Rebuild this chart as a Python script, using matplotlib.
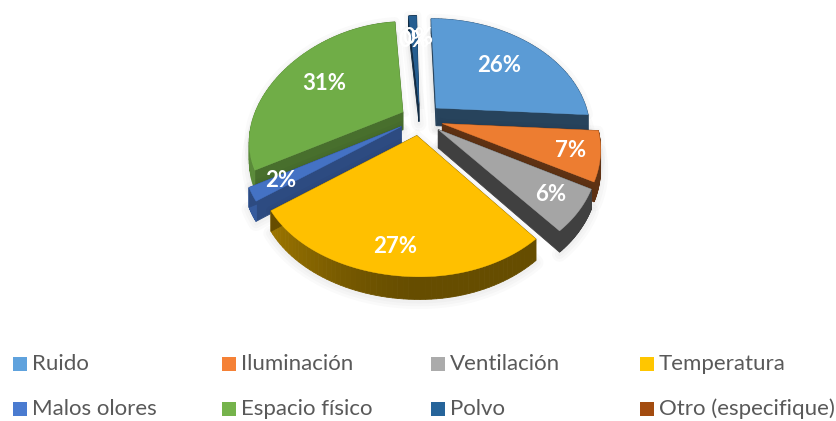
import numpy as np
import matplotlib
matplotlib.use("Agg")
import matplotlib.pyplot as plt

categories = ["Ruido", "Iluminación", "Ventilación", "Temperatura",
              "Malos olores", "Espacio físico", "Polvo", "Otro (especifique)"]
values = [26, 7, 6, 27, 2, 31, 1, 0]
labels = ["26%", "7%", "6%", "27%", "2%", "31%", "0%", "0%"]
colors = ["#5B9BD5", "#ED7D31", "#A5A5A5", "#FFC000",
          "#4472C4", "#70AD47", "#255E91", "#9E480E"]
legend_colors = ["#5FA2DD", "#F58136", "#ABABAB", "#FFC600",
                 "#4A7BD0", "#75B34B", "#26649A", "#A34C0F"]

# slice offset from the centre, label radius, wall darkness, drawing order (back to front)
explode = [0.15, 0.15, 0.15, 0.15, 0.14, 0.13, 0.14, 0.14]
label_r = [0.64, 0.82, 0.82, 0.83, 0.82, 0.64, 0.69, 0.73]
wall = [0.43, 0.40, 0.39, 0.40, 0.66, 0.64, 0.45, 0.40]
order = [6, 7, 5, 0, 1, 2, 4, 3]

CX, CY = 420, 119
A, B, K, SHEAR, H = 153, 109, 0.18, -3, 18


def project(u, v, down=0.0):
    u = np.asarray(u, dtype=float)
    w = 1 + K * v
    # the left side of the reference pie sags a little
    sag = 9 * np.minimum(u, 0) ** 2
    return CX + (A * u + SHEAR * v) / w, CY + sag + (-B * v + down * H) / w


fig = plt.figure(figsize=(8.37, 4.21), dpi=100)
ax = fig.add_axes([0, 0, 1, 1])
ax.set_xlim(0, 837)
ax.set_ylim(421, 0)
ax.axis("off")

frac = np.array(values) / np.sum(values)
edges = 90 - 360 * np.concatenate([[0], np.cumsum(frac)])


def shade(col, f):
    return tuple(np.array(matplotlib.colors.to_rgb(col)) * f)


for i in order:
    if values[i] == 0:
        continue
    a1, a2 = np.radians(edges[i]), np.radians(edges[i + 1])
    mid = (a1 + a2) / 2
    tu, tv = explode[i] * np.cos(mid), explode[i] * np.sin(mid)
    t = np.linspace(a1, a2, 60)
    us = np.concatenate([[tu], tu + np.cos(t)])
    vs = np.concatenate([[tv], tv + np.sin(t)])
    x0, y0 = project(us, vs)
    x1, y1 = project(us, vs, 1.0)

    # soft shadow
    for lw in (3, 7, 11):
        ax.plot(x1, y1 + 2, color="black", alpha=0.018, lw=lw, solid_capstyle="round", zorder=order.index(i))
    for lw in (3, 7):
        ax.plot(np.append(x0, x0[0]), np.append(y0, y0[0]), color="black", alpha=0.02, lw=lw, zorder=order.index(i))

    # walls
    n = len(us)
    for k in range(n):
        j = (k + 1) % n
        f = wall[i]
        if 0 < k < n - 1:
            # outer wall goes from lighter on the left to dark on the right
            f = wall[i] + 0.28 * max(0, -np.cos(t[k - 1])) ** 1.5
        c = shade(colors[i], min(f, 0.8))
        ax.fill([x0[k], x0[j], x1[j], x1[k]], [y0[k], y0[j], y1[j], y1[k]],
                color=c, lw=0.6, zorder=order.index(i) + 0.1)
    ax.fill(x0, y0, color=colors[i], lw=0.3, zorder=order.index(i) + 0.2)

for i, lab in enumerate(labels):
    a = np.radians((edges[i] + edges[i + 1]) / 2)
    r = explode[i] + label_r[i]
    lx, ly = project(r * np.cos(a), r * np.sin(a))
    ax.text(lx, ly, lab, color="white", fontsize=16, fontweight="bold", family="Lato",
            ha="center", va="center", zorder=20)

# legend, four columns in two rows
for i, name in enumerate(categories):
    col, row = i % 4, i // 4
    lx = 13 + 209 * col
    ly = 364 + 45 * row
    ax.add_patch(plt.Rectangle((lx, ly - 7), 14, 14, color=legend_colors[i], lw=0, zorder=20))
    ax.text(lx + 19, ly, name, color="#595959", fontsize=16, family="Lato",
            ha="left", va="center", zorder=20)

fig.savefig("out.png", dpi=100)
